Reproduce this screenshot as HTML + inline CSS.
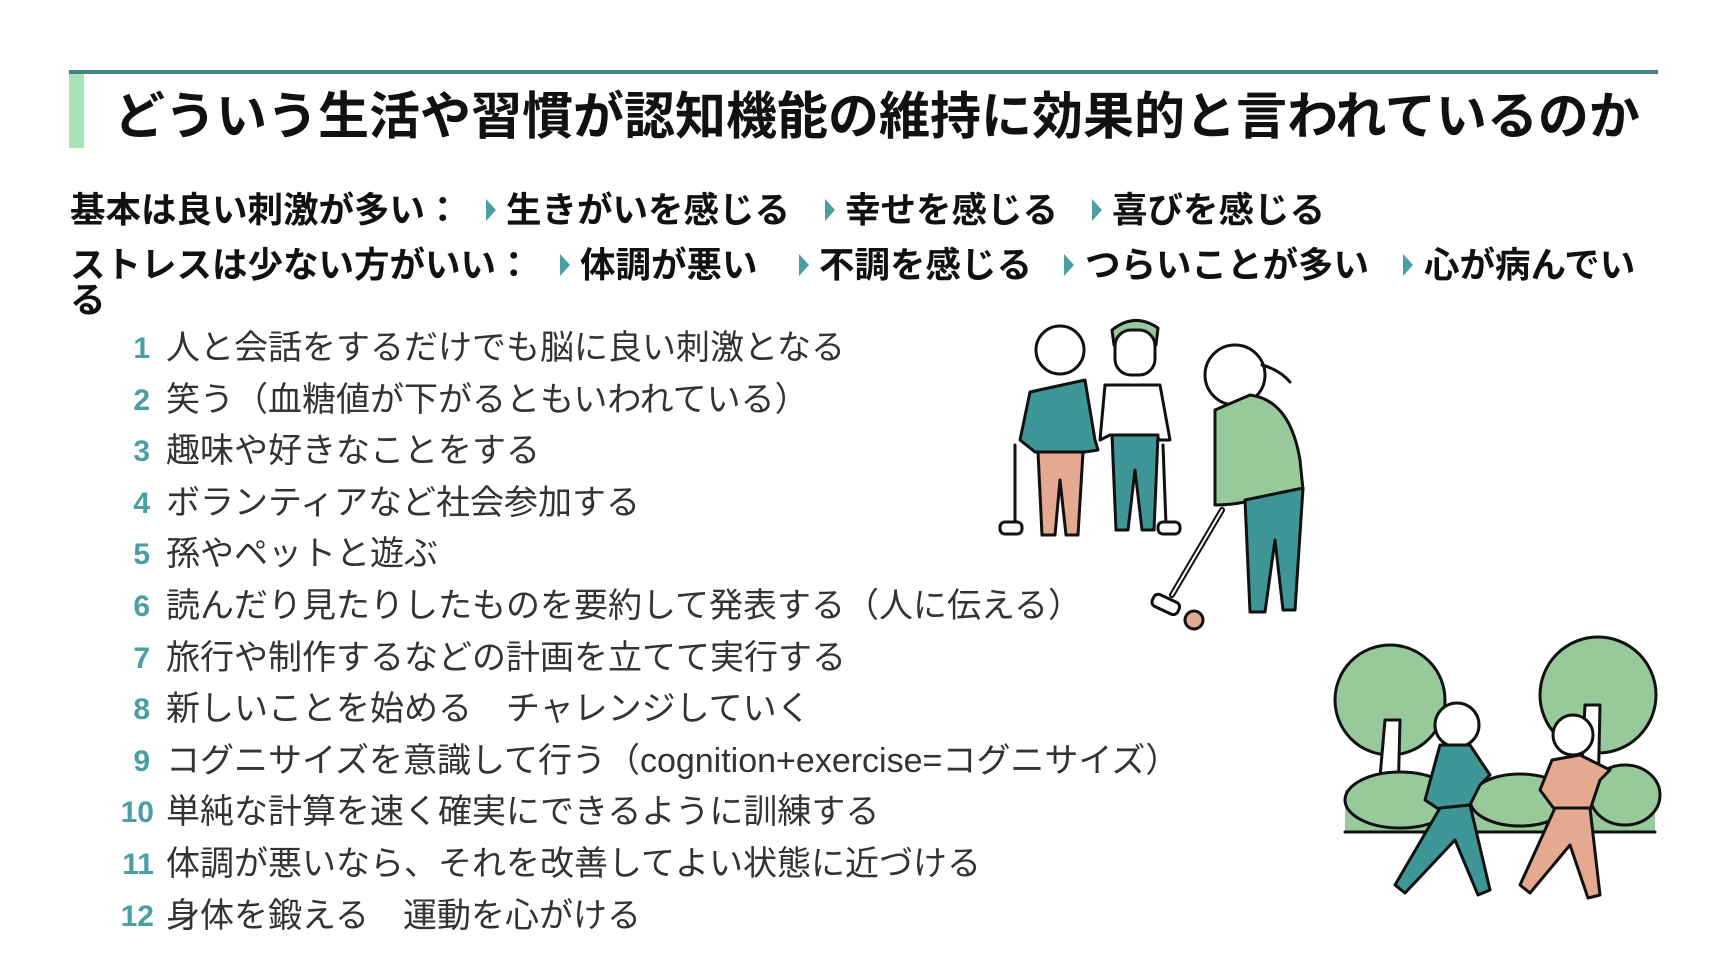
<!DOCTYPE html>
<html><head><meta charset="utf-8"><style>
body{margin:0;width:1732px;height:966px;background:#fff;position:relative;overflow:hidden;font-family:"Liberation Sans","Noto Sans CJK JP",sans-serif;}
.a{position:absolute;white-space:nowrap;line-height:1;}
.t{font-size:51px;font-weight:bold;color:#111;}
.h{font-size:35.5px;font-weight:bold;color:#111;}
.n{font-size:30px;font-weight:bold;color:#4a9fa2;width:70px;text-align:right;}
.l{font-size:34px;color:#333;}
.ar{position:absolute;width:0;height:0;border-top:11px solid transparent;border-bottom:11px solid transparent;border-left:10px solid #4a9fa2;}
</style></head><body>
<div style="position:absolute;left:69px;top:70px;width:1589px;height:4px;background:#3f8486"></div>
<div style="position:absolute;left:69px;top:74px;width:15px;height:74px;background:#a6e3b6"></div>
<div class="a t" style="left:114px;top:91px">どういう生活や習慣が認知機能の維持に効果的と言われているのか</div>

<div class="a h" style="left:70px;top:193px">基本は良い刺激が多い：</div>
<div class="ar" style="left:486px;top:199px"></div><div class="a h" style="left:506px;top:193px">生きがいを感じる</div>
<div class="ar" style="left:825px;top:199px"></div><div class="a h" style="left:845px;top:193px">幸せを感じる</div>
<div class="ar" style="left:1092px;top:199px"></div><div class="a h" style="left:1112px;top:193px">喜びを感じる</div>

<div class="a h" style="left:70px;top:248px">ストレスは少ない方がいい：</div>
<div class="ar" style="left:560px;top:254px"></div><div class="a h" style="left:580px;top:248px">体調が悪い</div>
<div class="ar" style="left:799px;top:254px"></div><div class="a h" style="left:819px;top:248px">不調を感じる</div>
<div class="ar" style="left:1064px;top:254px"></div><div class="a h" style="left:1085px;top:248px">つらいことが多い</div>
<div class="ar" style="left:1403px;top:254px"></div><div class="a h" style="left:1424px;top:248px">心が病んでい</div>
<div class="a h" style="left:70px;top:283px">る</div>

<div class="a n" style="left:80px;top:334px">1</div><div class="a l" style="left:166px;top:331px">人と会話をするだけでも脳に良い刺激となる</div>
<div class="a n" style="left:80px;top:386px">2</div><div class="a l" style="left:166px;top:383px">笑う（血糖値が下がるともいわれている）</div>
<div class="a n" style="left:80px;top:437px">3</div><div class="a l" style="left:166px;top:434px">趣味や好きなことをする</div>
<div class="a n" style="left:80px;top:489px">4</div><div class="a l" style="left:166px;top:486px">ボランティアなど社会参加する</div>
<div class="a n" style="left:80px;top:540px">5</div><div class="a l" style="left:166px;top:537px">孫やペットと遊ぶ</div>
<div class="a n" style="left:80px;top:592px">6</div><div class="a l" style="left:166px;top:589px">読んだり見たりしたものを要約して発表する（人に伝える）</div>
<div class="a n" style="left:80px;top:644px">7</div><div class="a l" style="left:166px;top:641px">旅行や制作するなどの計画を立てて実行する</div>
<div class="a n" style="left:80px;top:695px">8</div><div class="a l" style="left:166px;top:692px">新しいことを始める　チャレンジしていく</div>
<div class="a n" style="left:80px;top:747px">9</div><div class="a l" style="left:166px;top:744px">コグニサイズを意識して行う（cognition+exercise=コグニサイズ）</div>
<div class="a n" style="left:84px;top:798px">10</div><div class="a l" style="left:166px;top:795px">単純な計算を速く確実にできるように訓練する</div>
<div class="a n" style="left:84px;top:850px">11</div><div class="a l" style="left:166px;top:847px">体調が悪いなら、それを改善してよい状態に近づける</div>
<div class="a n" style="left:84px;top:902px">12</div><div class="a l" style="left:166px;top:899px">身体を鍛える　運動を心がける</div>

<svg style="position:absolute;left:0;top:0" width="1732" height="966" stroke="#111" stroke-width="3" stroke-linejoin="round" stroke-linecap="round">
<circle cx="1060" cy="350" r="24" fill="#fff"/>
<path d="M1030 392 L1085 380 L1095 440 L1098 450 L1085 452 L1035 452 L1020 440 Z" fill="#3f9696"/>
<path d="M1038 452 L1083 452 L1078 535 L1066 535 L1060 480 L1055 535 L1042 535 Z" fill="#e4a990"/>
<line x1="1015" y1="445" x2="1015" y2="525"/><rect x="1000" y="522" width="22" height="12" rx="5" fill="#fff"/>
<path d="M1112 330 Q1135 312 1158 328 L1156 345 L1114 345 Z" fill="#97c99b"/>
<rect x="1115" y="330" width="40" height="45" rx="16" fill="#fff"/>
<path d="M1105 385 L1160 385 L1170 440 L1160 440 L1155 435 L1110 435 L1100 440 Z" fill="#fff"/>
<path d="M1112 435 L1158 435 L1154 530 L1142 530 L1135 470 L1128 530 L1116 530 Z" fill="#3f9696"/>
<line x1="1163" y1="445" x2="1166" y2="525"/><rect x="1158" y="522" width="22" height="12" rx="5" fill="#fff"/>
<circle cx="1235" cy="375" r="30" fill="#fff"/>
<path d="M1262 365 Q1280 370 1290 382" fill="none"/>
<path d="M1215 410 L1250 395 Q1290 400 1300 460 L1303 490 L1270 497 L1245 502 Q1230 505 1215 505 Z" fill="#97c99b"/>
<path d="M1245 500 L1303 488 L1295 610 L1283 610 L1275 540 L1265 612 L1250 612 Z" fill="#3f9696"/>
<line x1="1222" y1="510" x2="1172" y2="595" stroke-width="6"/><line x1="1222" y1="510" x2="1172" y2="595" stroke="#fff" stroke-width="2"/>
<rect x="1152" y="598" width="28" height="13" rx="5" fill="#fff" transform="rotate(25 1166 604)"/>
<circle cx="1194" cy="620" r="9" fill="#e4a990"/>
<rect x="1345" y="790" width="310" height="42" fill="#97c99b" stroke="none"/>
<line x1="1345" y1="832" x2="1655" y2="832"/>
<circle cx="1390" cy="700" r="55" fill="#97c99b"/>
<circle cx="1598" cy="695" r="58" fill="#97c99b"/>
<path d="M1378 800 L1385 720 L1400 720 L1398 800 Z" fill="#fff"/>
<path d="M1580 800 L1585 705 L1600 705 L1598 800 Z" fill="#fff"/>
<ellipse cx="1400" cy="800" rx="55" ry="28" fill="#97c99b"/>
<ellipse cx="1520" cy="800" rx="50" ry="26" fill="#97c99b"/>
<ellipse cx="1625" cy="795" rx="35" ry="30" fill="#97c99b"/>
<circle cx="1457" cy="725" r="22" fill="#fff"/>
<path d="M1440 745 L1470 745 L1490 775 L1480 785 L1470 805 L1440 810 L1425 800 Z" fill="#3f9696"/>
<path d="M1440 808 L1470 805 L1490 890 L1478 895 L1455 840 L1405 893 L1395 885 Z" fill="#3f9696"/>
<circle cx="1573" cy="735" r="20" fill="#fff"/>
<path d="M1552 760 L1580 755 L1610 770 L1600 780 L1590 810 L1555 810 L1540 790 Z" fill="#e4a990"/>
<path d="M1555 808 L1590 808 L1600 895 L1588 898 L1570 845 L1530 893 L1520 885 Z" fill="#e4a990"/>
</svg>
</body></html>
